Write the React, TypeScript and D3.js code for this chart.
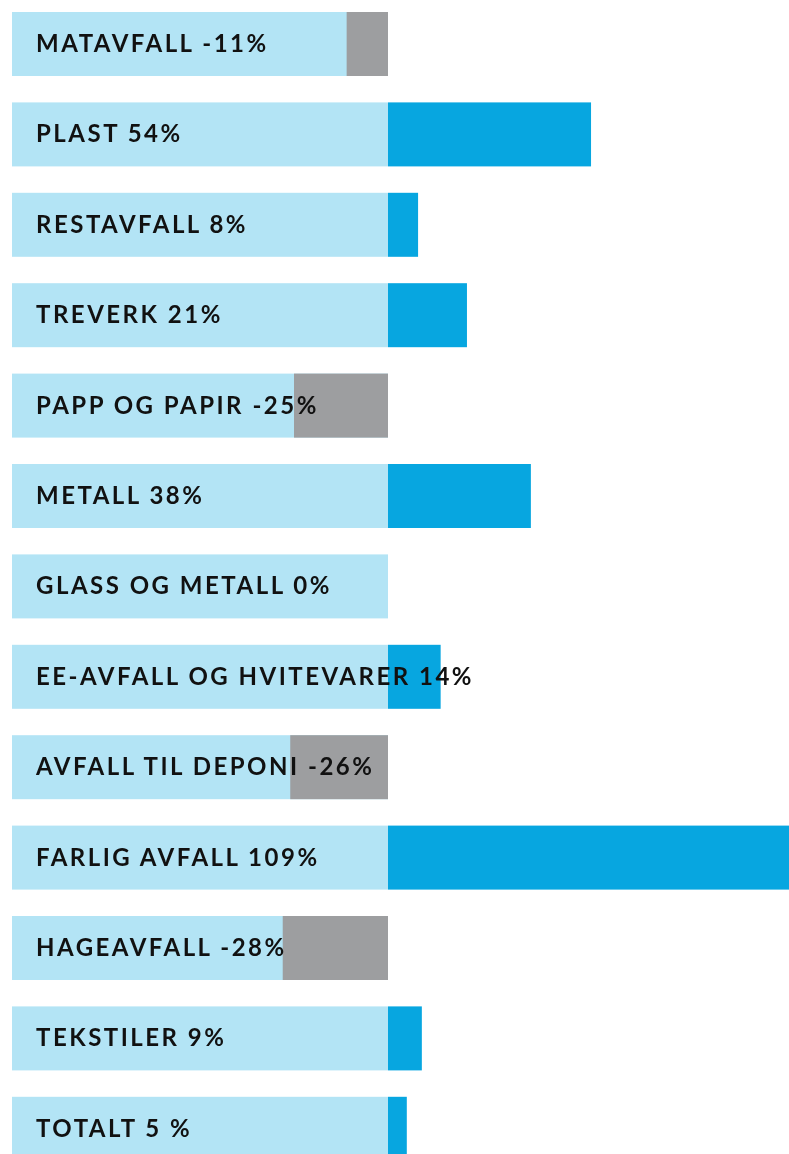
import React from "react";
import * as d3 from "d3";

const categories = [
  "MATAVFALL", "PLAST", "RESTAVFALL", "TREVERK", "PAPP OG PAPIR", "METALL",
  "GLASS OG METALL", "EE-AVFALL OG HVITEVARER", "AVFALL TIL DEPONI",
  "FARLIG AVFALL", "HAGEAVFALL", "TEKSTILER", "TOTALT",
];
const changes = [-11, 54, 8, 21, -25, 38, 0, 14, -26, 109, -28, 9, 5];
const valueLabels = ["-11%", "54%", "8%", "21%", "-25%", "38%", "0%", "14%", "-26%", "109%", "-28%", "9%", "5 %"];
const baseline = 100;

const W = 789;
const H = 1154;

export default function App() {
  const x = d3.scaleLinear().domain([0, 100]).range([12, 388]);
  const step = 90.4;
  const bandH = 64;
  const n = categories.length;
  const y = d3
    .scaleBand<string>()
    .domain(categories)
    .range([12, 12 + (n - 1) * step + bandH])
    .paddingInner((step - bandH) / step)
    .paddingOuter(0)
    .align(0);

  return (
    <svg
      width={W}
      height={H}
      style={{ position: "fixed", left: 0, top: 0, display: "block" }}
    >
      {categories.map((c, i) => {
        const v = changes[i];
        const y0 = y(c)!;
        const h = y.bandwidth();
        const neg = v < 0;
        const cx0 = neg ? x(baseline + v) : x(baseline);
        const cx1 = neg ? x(baseline) : x(baseline + v);
        return (
          <g key={c}>
            <rect x={x(0)} y={y0} width={x(baseline) - x(0)} height={h} fill="#b3e4f5" />
            {v !== 0 && (
              <rect x={cx0} y={y0} width={cx1 - cx0} height={h} fill={neg ? "#9d9ea0" : "#07a6e0"} />
            )}
          </g>
        );
      })}
      {categories.map((c, i) => (
        <text
          key={"t" + c}
          x={36}
          y={y(c)! + 40}
          fontFamily="Lato, 'Noto Sans', sans-serif"
          fontWeight={700}
          fontSize={24}
          letterSpacing={2.5}
          fill="#111"
        >
          {c + " " + valueLabels[i]}
        </text>
      ))}
    </svg>
  );
}
